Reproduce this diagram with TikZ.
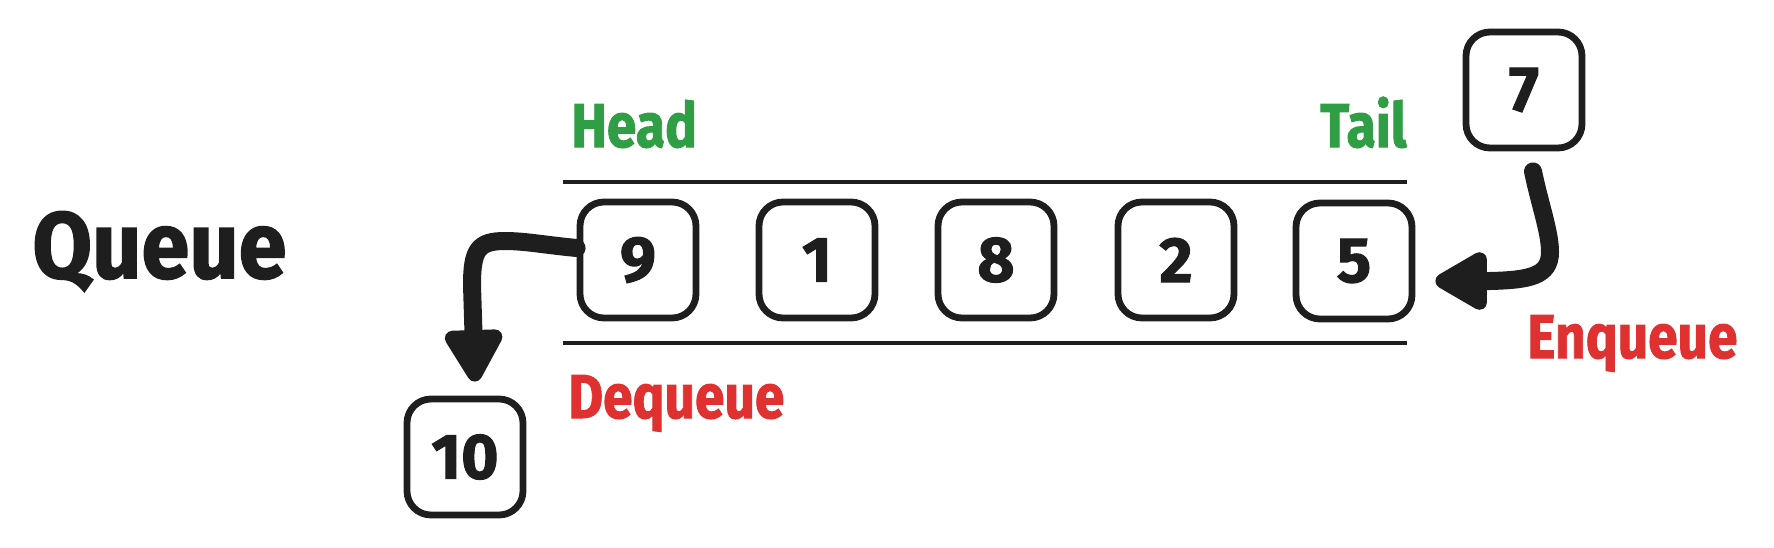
\documentclass[tikz,border=0pt]{standalone}
\usepackage{fontspec}
\setmainfont{Fira Sans}[BoldFeatures={FakeBold=1.6}]
\usetikzlibrary{arrows.meta}
\definecolor{ink}{HTML}{1E1E1E}
\definecolor{grn}{HTML}{2F9E44}
\definecolor{rd}{HTML}{E03131}
\newcommand\cnd[1]{\scalebox{0.86}[1]{#1}}
\begin{document}
\begin{tikzpicture}[x=0.5pt,y=-0.5pt,
  cell/.style={draw=ink,line width=3.4pt,rounded corners=12pt,minimum width=58pt,minimum height=58pt,inner sep=0pt,font=\fontsize{32}{32}\selectfont\bfseries,text=ink},
  lbl/.style={inner sep=0pt,font=\fontsize{31}{31}\selectfont\bfseries},
  bigarrow/.style={draw=ink,line width=9pt,line cap=round,-{Triangle[length=30pt,width=32pt,round]}},
  rail/.style={draw=ink,line width=2pt}]
\useasboundingbox (0,0) rectangle (1774,547);
\node[lbl,anchor=base west,font=\fontsize{47}{47}\selectfont\bfseries,text=ink] (q) at (32,278) {\scalebox{0.92}[1]{Queue}};
\node[lbl,anchor=base west,text=grn] (head) at (571,147) {\cnd{Head}};
\node[lbl,anchor=base east,text=grn] (tail) at (1407,147) {\cnd{Tail}};
\node[lbl,anchor=base west,text=rd] (deq) at (568,418) {\cnd{Dequeue}};
\node[lbl,anchor=base west,text=rd] (enq) at (1527,358) {\cnd{Enqueue}};
\coordinate (tl) at (563,182);
\coordinate (tr) at (1407,182);
\coordinate (bl) at (563,343);
\coordinate (br) at (1407,343);
\draw[rail] (tl) -- (tr);
\draw[rail] (bl) -- (br);
\node[cell] (b9) at (638,260) {9};
\node[cell] (b1) at (817,260) {1};
\node[cell] (b8) at (996,260) {8};
\node[cell] (b2) at (1176,260) {2};
\node[cell] (b5) at (1354,261) {5};
\node[cell] (b7) at (1524,90) {7};
\node[cell] (b10) at (465,457) {10};
\draw[bigarrow] ([yshift=6pt]b9.west) .. controls (545,245) and (525,241) .. (505,241)
  .. controls (478,241) and (472,250) .. (472,285) -- ([xshift=5pt,yshift=7pt]b10.north);
\draw[bigarrow] ([xshift=4.5pt,yshift=-10pt]b7.south) .. controls (1540,205) and (1550,232) .. (1550,252)
  .. controls (1550,276) and (1530,280) .. (1490,281) -- ([xshift=10pt,yshift=-10pt]b5.east);
\end{tikzpicture}
\end{document}
